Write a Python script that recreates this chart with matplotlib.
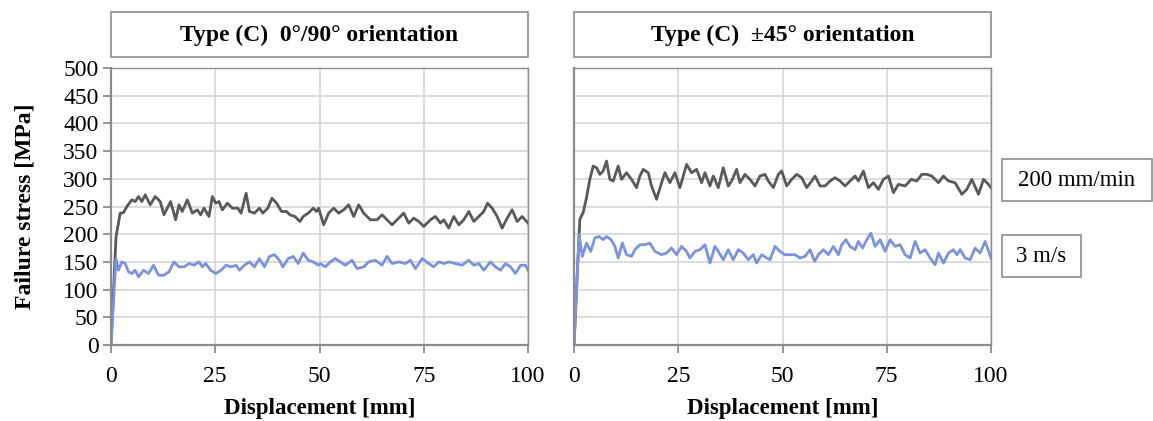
import matplotlib
matplotlib.use("Agg")
import matplotlib.pyplot as plt
from matplotlib.patches import Rectangle

plt.rcParams['font.family'] = ['Liberation Serif', 'DejaVu Serif']

# values
titles = ['Type (C)  0°/90° orientation', 'Type (C)  ±45° orientation']
series_names = ['200 mm/min', '3 m/s']

# 0/90 orientation, 200 mm/min
x_090_slow = [0, 1.2, 2.2, 3.0, 3.8, 5.0, 5.8, 6.6, 7.4, 8.2, 9.4, 10.6, 11.8, 12.7,
              14.3, 15.5, 16.3, 17.1, 18.3, 19.5, 20.7, 21.5, 22.3, 23.5, 24.3, 25.1,
              25.9, 26.7, 27.9, 29.1, 30.4, 31.2, 32.4, 33.2, 34.4, 35.6, 36.4, 37.6,
              38.6, 39.7, 40.9, 42.1, 42.9, 44.1, 45.3, 46.1, 47.3, 48.5, 49.3, 49.8,
              51.0, 52.2, 53.4, 54.6, 55.8, 57.0, 58.2, 59.4, 60.6, 62.2, 63.8, 65.0,
              66.2, 67.4, 68.6, 70.2, 71.4, 72.6, 73.8, 75.0, 76.6, 77.8, 79.0, 79.8,
              81.0, 82.2, 83.4, 84.6, 85.8, 87.0, 88.2, 89.4, 90.3, 91.4, 92.6, 93.8,
              95.0, 96.2, 97.4, 98.6, 100]
y_090_slow = [0, 195, 238, 239, 250, 262, 259, 268, 259, 271, 253, 268, 259, 235,
              259, 226, 253, 241, 262, 238, 244, 235, 247, 232, 268, 256,
              259, 244, 256, 247, 247, 238, 274, 241, 238, 247, 238, 247,
              265, 256, 241, 241, 235, 232, 223, 232, 238, 247, 241, 247,
              217, 238, 247, 238, 244, 253, 232, 253, 238, 226, 226, 235,
              226, 217, 226, 238, 220, 229, 223, 214, 226, 232, 220, 226,
              211, 232, 217, 226, 241, 223, 232, 241, 256, 247, 232, 211,
              229, 244, 223, 232, 220]

# 0/90 orientation, 3 m/s
x_090_fast = [0, 1.2, 1.8, 2.6, 3.4, 4.2, 5.0, 5.8, 6.6, 7.8, 9.0, 10.2, 11.4, 12.7,
              13.9, 15.1, 16.3, 17.5, 18.7, 19.9, 21.1, 21.9, 22.7, 23.9, 25.1, 26.4,
              27.6, 28.8, 30.0, 30.8, 32.0, 33.2, 34.4, 35.6, 36.8, 38.0, 39.2, 40.4,
              41.2, 42.5, 43.7, 44.9, 46.1, 47.3, 48.5, 49.7, 50.2, 51.4, 52.6, 53.8,
              55.0, 56.2, 57.8, 59.0, 60.6, 61.8, 63.4, 65.0, 66.2, 67.4, 69.0, 70.6,
              71.8, 73.0, 74.6, 76.2, 77.4, 78.6, 79.8, 81.0, 82.6, 84.2, 85.8, 87.0,
              88.2, 89.4, 91.0, 92.2, 93.4, 94.6, 95.8, 97.0, 98.2, 99.4, 100]
y_090_fast = [0, 156, 135, 150, 147, 132, 129, 135, 123, 135, 129, 144, 126, 126,
              132, 150, 141, 141, 147, 144, 150, 141, 147, 135, 129, 135,
              144, 141, 144, 135, 144, 150, 141, 156, 141, 160, 163, 153,
              141, 156, 160, 147, 166, 153, 150, 144, 147, 141, 150, 156,
              150, 144, 153, 138, 141, 150, 153, 144, 160, 147, 150, 147,
              153, 138, 156, 147, 141, 150, 147, 150, 147, 144, 153, 144,
              147, 135, 150, 141, 135, 147, 141, 129, 144, 144, 135]

# +-45 orientation, 200 mm/min
x_45_slow = [0, 1.4, 2.2, 3.0, 3.8, 4.6, 5.4, 6.2, 7.0, 7.8, 8.6, 9.4, 10.6, 11.4,
             12.6, 13.8, 15.0, 15.8, 16.6, 17.8, 18.6, 19.8, 21.0, 21.8, 23.0, 24.2,
             25.4, 27.0, 28.2, 29.4, 30.6, 31.4, 32.6, 33.4, 34.6, 35.8, 37.0, 37.8,
             39.0, 39.8, 41.0, 42.2, 43.4, 44.6, 45.8, 46.6, 47.8, 49.0, 49.8, 51.0,
             52.2, 53.4, 54.6, 55.8, 57.0, 57.8, 59.0, 60.2, 61.4, 62.6, 63.8, 65.0,
             66.2, 67.4, 68.2, 69.4, 70.6, 71.8, 73.0, 74.2, 75.4, 76.6, 77.8, 79.4,
             80.9, 82.2, 83.4, 84.6, 85.8, 87.4, 88.6, 89.8, 91.4, 93.0, 94.2, 95.4,
             97.0, 98.2, 99.4, 100]
y_45_slow = [0, 227, 239, 266, 299, 323, 320, 308, 314, 332, 299, 296, 323, 299,
             311, 299, 284, 305, 317, 311, 287, 263, 293, 311, 293, 311,
             284, 326, 311, 317, 293, 311, 287, 305, 284, 320, 287, 296,
             317, 293, 308, 299, 287, 305, 308, 296, 284, 308, 314, 287,
             299, 308, 302, 284, 296, 305, 287, 287, 296, 302, 296, 287,
             296, 305, 296, 314, 284, 293, 281, 299, 305, 275, 290, 287,
             299, 296, 308, 308, 305, 293, 305, 296, 293, 272, 281, 299,
             272, 299, 290, 284]

# +-45 orientation, 3 m/s
x_45_fast = [0, 1.2, 2.0, 3.0, 4.0, 5.0, 6.0, 7.0, 7.8, 8.9, 9.8, 10.6, 11.6, 12.6,
             13.8, 14.6, 15.8, 17.0, 18.2, 19.4, 21.0, 22.2, 23.4, 24.6, 25.8, 27.0,
             27.8, 29.0, 30.2, 31.4, 32.6, 33.8, 34.6, 35.8, 37.0, 38.2, 39.4, 40.6,
             41.8, 43.0, 43.8, 45.0, 46.2, 47.0, 48.2, 49.4, 50.6, 51.8, 53.0, 54.2,
             55.4, 56.6, 57.7, 58.6, 59.8, 61.0, 62.2, 63.4, 64.2, 65.2, 66.2, 67.4,
             68.2, 69.2, 70.2, 71.2, 72.2, 73.4, 74.6, 75.8, 77.0, 78.2, 79.4, 80.6,
             81.8, 83.0, 84.2, 85.4, 86.6, 87.4, 88.6, 89.8, 91.0, 91.8, 92.6, 93.8,
             95.0, 96.2, 97.4, 98.6, 100]
y_45_fast = [0, 199, 160, 184, 169, 193, 196, 190, 196, 190, 178, 157, 184, 163,
             160, 172, 181, 181, 184, 169, 163, 166, 175, 163, 178, 169,
             157, 169, 172, 181, 148, 178, 169, 154, 172, 154, 172, 166,
             154, 163, 148, 163, 157, 154, 178, 169, 163, 163, 163, 157,
             160, 172, 151, 163, 172, 163, 178, 163, 181, 190, 178, 172,
             187, 175, 190, 202, 178, 190, 169, 190, 178, 181, 163, 157,
             187, 166, 172, 157, 145, 166, 148, 166, 172, 163, 172, 157,
             154, 175, 166, 187, 157]

panels = [(x_090_slow, y_090_slow, x_090_fast, y_090_fast),
          (x_45_slow, y_45_slow, x_45_fast, y_45_fast)]

dark = '#595959'
blue = '#7b93de'
frame = '#8c8c8c'
fs = 17

fig = plt.figure(figsize=(11.53, 4.21), dpi=100)
lefts = [111 / 1153, 574 / 1153]
w = 417 / 1153

for i, (xs, ys, xf, yf) in enumerate(panels):
    ax = fig.add_axes([lefts[i], 76 / 421, w, 277 / 421])
    ax.plot(xs, ys, color=dark, lw=2.0)
    ax.plot(xf, yf, color=blue, lw=2.0)
    ax.set_xlim(0, 100)
    ax.set_ylim(0, 500)
    ax.set_xticks([0, 25, 50, 75, 100])
    ax.set_yticks(range(0, 501, 50))
    ax.grid(True, color='#d9d9d9', lw=1.3)
    ax.set_axisbelow(True)
    for s in ax.spines.values():
        s.set_color(frame)
        s.set_linewidth(1.0)
    ax.spines['left'].set_linewidth(1.6)
    ax.spines['bottom'].set_linewidth(1.6)
    ax.tick_params(axis='both', colors=frame, labelcolor='black', labelsize=fs,
                   length=6, width=1.3, direction='out')
    ax.tick_params(axis='x', pad=9)
    ax.tick_params(axis='y', pad=3)
    ax.set_xlabel('Displacement [mm]', fontsize=16.5, fontweight='bold', labelpad=8)
    if i == 0:
        ax.set_ylabel('Failure stress [MPa]', fontsize=fs, fontweight='bold', labelpad=20)
    else:
        ax.tick_params(axis='y', left=False, labelleft=False)

    # title box above each panel
    box = Rectangle((lefts[i], 364 / 421), w, 45 / 421, transform=fig.transFigure,
                    facecolor='white', edgecolor=frame, lw=1.2)
    fig.patches.append(box)
    fig.text(lefts[i] + w / 2, 386 / 421, titles[i], ha='center', va='center',
             fontsize=fs, fontweight='bold')

# series labels on the right
label_y = [180, 256]
label_w = [150, 79]
for name, yc, bw in zip(series_names, label_y, label_w):
    fig.patches.append(Rectangle((1002 / 1153, (421 - yc - 21) / 421), bw / 1153, 42 / 421,
                                 transform=fig.transFigure, facecolor='white',
                                 edgecolor=frame, lw=1.2))
    fig.text((1002 + bw / 2) / 1153, (421 - yc) / 421, name, ha='center', va='center',
             fontsize=16.5)

fig.savefig('out.png', dpi=100)
